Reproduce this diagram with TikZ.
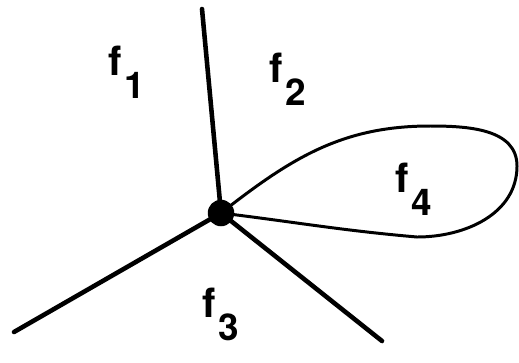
\documentclass[tikz,border=0pt]{standalone}
\usepackage{fontspec}
\setmainfont{TeX Gyre Heros}
\usepackage{tikz}
\usetikzlibrary{calc}

\newcommand{\facelab}[1]{{\bfseries\fontsize{23}{23}\selectfont f\kern1.5pt\raisebox{-13.5pt}{\fontsize{21}{21}\selectfont #1}}}

\begin{document}
\begin{tikzpicture}[
    x=0.02cm, y=-0.02cm,
    vertex/.style={circle, fill=black, inner sep=0pt, minimum size=0.53cm},
    edge/.style={line width=2.6pt, line cap=round},
    loopedge/.style={line width=1.7pt},
    face/.style={anchor=base west, inner sep=0pt}
  ]
    \useasboundingbox (0,0) rectangle (519,362);

    % Vertex
    \node[vertex] (v) at (221,213) {};

    % Edge ends
    \coordinate (top) at (202,9);
    \coordinate (left) at (14,332);
    \coordinate (right) at (382,341);

    % Edges
    \draw[edge] (v.center) -- (top);
    \draw[edge] (v.center) -- (left);
    \draw[edge] (v.center) -- (right);

    % Loop
    \coordinate (lt) at (430,126);
    \coordinate (lr) at (517,166);
    \coordinate (lb) at (417,237);
    \draw[loopedge] (v.center) to[out=38,in=180] (lt) to[out=0,in=90] (lr)
      to[out=-90,in=0] (lb) to[out=175,in=-7] (v.center);

    % Faces
    \node[face] (f1) at (108,75) {\facelab{1}};
    \node[face] (f2) at (269,82) {\facelab{2}};
    \node[face] (f3) at (202,317) {\facelab{3}};
    \node[face] (f4) at (395,192) {\facelab{4}};
  \end{tikzpicture}
\end{document}
